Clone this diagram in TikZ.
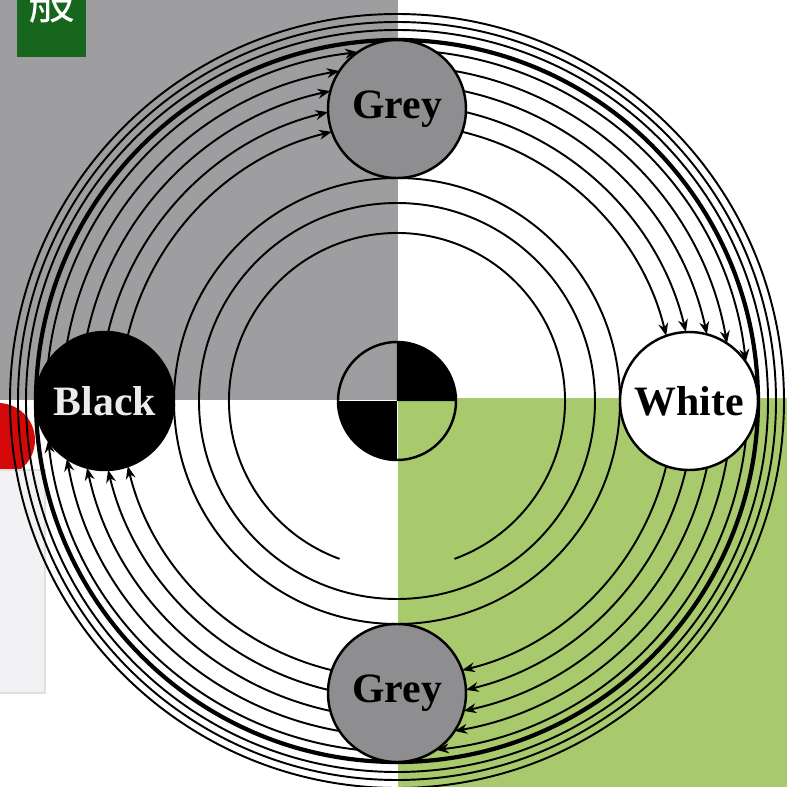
\documentclass[tikz,border=0pt]{standalone}
\usepackage{fontspec}
\setmainfont{Liberation Serif}
\newfontfamily\cjk{Noto Sans CJK SC}
\usetikzlibrary{arrows.meta}
\definecolor{bggrey}{RGB}{158,158,160}
\definecolor{nodegrey}{RGB}{142,142,144}
\definecolor{bggreen}{RGB}{168,202,108}
\definecolor{darkgreen}{RGB}{22,102,30}
\definecolor{redmark}{RGB}{212,8,8}
\definecolor{paleplate}{RGB}{242,242,245}
\begin{document}
\begin{tikzpicture}[
  thinline/.style={line width=0.55pt},
  thickline/.style={line width=1.2pt},
  arr/.style={-{Stealth[length=3.6pt,width=2.8pt]}},
  disc/.style={circle, draw, line width=0.7pt, minimum size=1.38cm, inner sep=0pt,
    font=\bfseries\fontsize{11.9}{12}\selectfont}
]
\useasboundingbox (0,0) rectangle (7.87,7.87);
\clip (0,0) rectangle (7.87,7.87);
\coordinate (O) at (3.97,3.86);
% background quadrants and page marks
\fill[bggrey] (0,3.87) rectangle (3.98,7.87);
\fill[bggreen] (3.98,0) rectangle (7.87,3.89);
\fill[redmark] (-0.02,3.47) circle (0.37);
\fill[paleplate] (0,0.94) rectangle (0.45,3.17);
\draw[black!12, line width=0.4pt] (0,3.17) -- (0.45,3.17) -- (0.45,0.94) -- (0,0.94);
\fill[darkgreen] (0.17,7.30) rectangle (0.86,7.87);
\node[text=white, font=\cjk\fontsize{13.5}{13.5}\selectfont, inner sep=0pt] (ban) at (0.525,7.86) {般};
% concentric circles
\draw[thinline] ([shift={(-70:1.68cm)}]O) arc[start angle=-70, end angle=250, radius=1.68cm];
\foreach \r in {1.98,2.23} \draw[thinline] (O) circle (\r);
\draw[thickline] (O) circle (3.61);
\foreach \r in {3.71,3.79,3.87} \draw[thinline] (O) circle (\r);
% arrowed arcs from node to node (clockwise)
\foreach \r in {2.77,2.97,3.17,3.35,3.51} {
  \pgfmathsetmacro\dl{acos((\r*\r+2.92*2.92-0.69*0.69)/(2*\r*2.92))}
  \foreach \a in {180,90,0,-90} {
    \draw[thinline, arr] ([shift={(\a-\dl:\r cm)}]O)
      arc[start angle=\a-\dl, end angle=\a-90+\dl, radius=\r cm];
  }
}
% nodes
\node[disc, fill=nodegrey] (gt) at ([shift={(90:2.92cm)}]O) {Grey};
\node[disc, fill=white] (wh) at ([shift={(0:2.92cm)}]O) {White};
\node[disc, fill=nodegrey] (gb) at ([shift={(-90:2.92cm)}]O) {Grey};
\node[disc, fill=black, text=black!8] (bk) at ([shift={(180:2.92cm)}]O) {Black};
% centre disc
\fill[black] (O) -- ([shift={(0:0.59cm)}]O) arc[start angle=0, end angle=90, radius=0.59cm] -- cycle;
\fill[black] (O) -- ([shift={(180:0.59cm)}]O) arc[start angle=180, end angle=270, radius=0.59cm] -- cycle;
\node[circle, draw, line width=0.7pt, minimum size=1.18cm, inner sep=0pt] (ctr) at (O) {};
\end{tikzpicture}
\end{document}
